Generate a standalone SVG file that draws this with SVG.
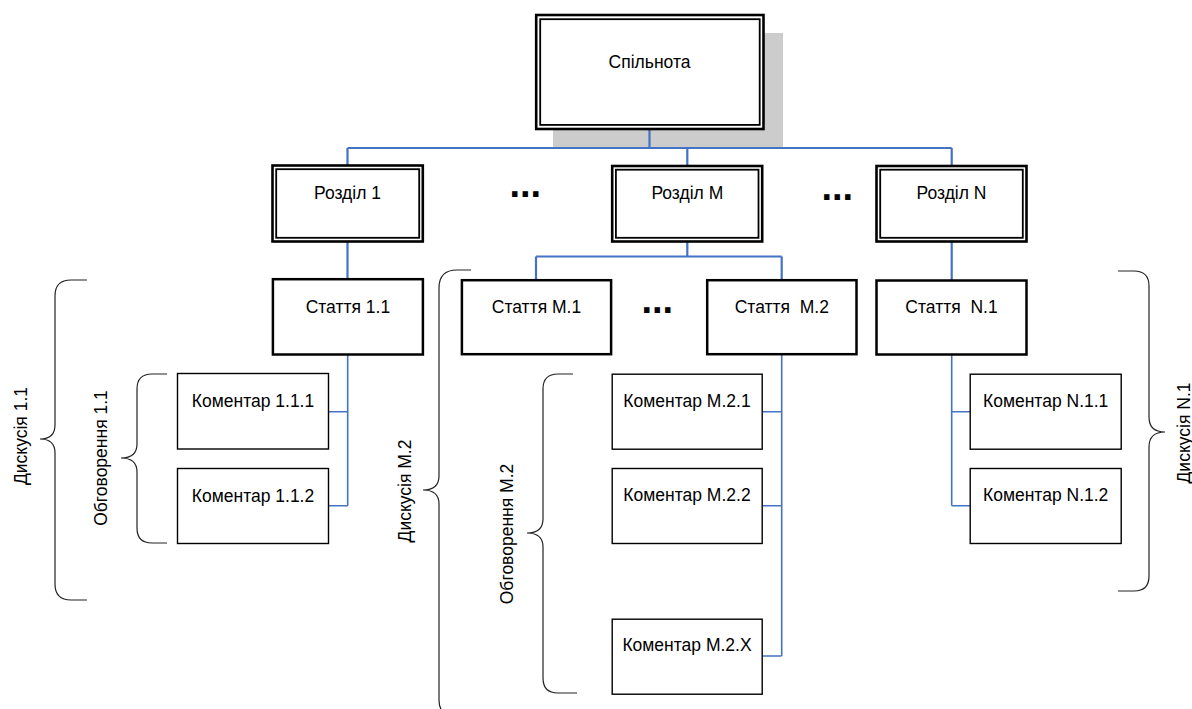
<svg xmlns="http://www.w3.org/2000/svg" width="1192" height="709" viewBox="0 0 1192 709">
  <style>
    text { font-family: "Liberation Sans", Arial, sans-serif; font-size: 17.5px; fill: #000; }
    .c { text-anchor: middle; }
    .dots { font-weight: bold; font-size: 38px; }
    .outer { fill: #fff; stroke: #000; stroke-width: 2.6; }
    .inner { fill: none; stroke: #000; stroke-width: 1.8; }
    .bold { fill: #fff; stroke: #000; stroke-width: 2.5; }
    .thin { fill: #fff; stroke: #000; stroke-width: 1.4; }
    .link { fill: none; stroke: #4472C4; stroke-width: 2.2; }
    .sublink { fill: none; stroke: #4472C4; stroke-width: 1.6; }
    .brace { fill: none; stroke: #222; stroke-width: 1.2; }
  </style>

  <!-- shadow of the root box -->
  <rect x="553" y="33" width="230" height="115" fill="#cccccc"/>

  <!-- connectors -->
  <g id="connectors">
    <path class="link" d="M649.5 129 V148 M347.5 148 H951.7 M347.5 148 V165 M687.3 148 V165 M951.7 148 V165"/>
    <path class="link" d="M347.5 242 V279"/>
    <path class="link" d="M687.3 242 V256.5 M536 256.5 H781.7 M536 256.5 V280 M781.7 256.5 V280"/>
    <path class="link" d="M951.7 242 V280"/>
    <path class="sublink" d="M347.7 355 V505.7 M329 411.7 H347.7 M329 505.7 H347.7"/>
    <path class="sublink" d="M781.7 355 V656 M762.7 411.7 H781.7 M762.7 505.7 H781.7 M762.7 656 H781.7"/>
    <path class="sublink" d="M951.7 355 V505.7 M951.7 411.7 H970 M951.7 505.7 H970"/>
  </g>

  <!-- root -->
  <g id="root">
    <rect class="outer" x="536.2" y="15" width="227.3" height="114"/>
    <rect class="inner" x="540.2" y="19.2" width="219.5" height="105.7"/>
    <text class="c" x="649.5" y="67.5">Спільнота</text>
  </g>

  <!-- sections -->
  <g id="section-1">
    <rect class="outer" x="272.5" y="165.5" width="150.3" height="76"/>
    <rect class="inner" x="276.2" y="169.2" width="143" height="68.6"/>
    <text class="c" x="347.5" y="199">Розділ 1</text>
  </g>
  <g id="section-m">
    <rect class="outer" x="612.2" y="166" width="150" height="75.5"/>
    <rect class="inner" x="615.9" y="169.7" width="142.6" height="68.1"/>
    <text class="c" x="687.3" y="199.3">Розділ M</text>
  </g>
  <g id="section-n">
    <rect class="outer" x="876.5" y="166" width="150" height="75.5"/>
    <rect class="inner" x="880.2" y="169.7" width="142.6" height="68.1"/>
    <text class="c" x="951.5" y="199.3">Розділ N</text>
  </g>

  <!-- ellipses between items -->
  <g id="gaps">
    <text class="dots" x="509.5" y="197">...</text>
    <text class="dots" x="821.5" y="199.5">...</text>
    <text class="dots" x="641.5" y="313">...</text>
  </g>

  <!-- articles -->
  <g id="article-1-1">
    <rect class="bold" x="272.9" y="279.2" width="150" height="75.3"/>
    <text class="c" x="347.9" y="312.7">Стаття 1.1</text>
  </g>
  <g id="article-m-1">
    <rect class="bold" x="461.9" y="280.2" width="149.2" height="74"/>
    <text class="c" x="536.5" y="312.7">Стаття M.1</text>
  </g>
  <g id="article-m-2">
    <rect class="bold" x="707.2" y="280.2" width="149.3" height="74"/>
    <text class="c" x="781.8" y="312.7" xml:space="preserve">Стаття  M.2</text>
  </g>
  <g id="article-n-1">
    <rect class="bold" x="876.5" y="280.5" width="150" height="74"/>
    <text class="c" x="951.5" y="312.7" xml:space="preserve">Стаття  N.1</text>
  </g>

  <!-- comments -->
  <g id="comment-1-1-1">
    <rect class="thin" x="177.5" y="373.5" width="151" height="75.5"/>
    <text class="c" x="253" y="407">Коментар 1.1.1</text>
  </g>
  <g id="comment-1-1-2">
    <rect class="thin" x="177.5" y="468.5" width="151" height="75"/>
    <text class="c" x="253" y="501.5">Коментар 1.1.2</text>
  </g>
  <g id="comment-m-2-1">
    <rect class="thin" x="612.2" y="374.2" width="150" height="75"/>
    <text class="c" x="687" y="406.5">Коментар M.2.1</text>
  </g>
  <g id="comment-m-2-2">
    <rect class="thin" x="612.2" y="468.5" width="150" height="75"/>
    <text class="c" x="687" y="501.3">Коментар M.2.2</text>
  </g>
  <g id="comment-m-2-x">
    <rect class="thin" x="612.2" y="619.2" width="150" height="75"/>
    <text class="c" x="687" y="651.3">Коментар M.2.X</text>
  </g>
  <g id="comment-n-1-1">
    <rect class="thin" x="970.2" y="374.2" width="151" height="75"/>
    <text class="c" x="1045.7" y="406.7">Коментар N.1.1</text>
  </g>
  <g id="comment-n-1-2">
    <rect class="thin" x="970.2" y="468.5" width="151" height="75"/>
    <text class="c" x="1045.7" y="501.3">Коментар N.1.2</text>
  </g>

  <!-- grouping braces -->
  <g id="discussion-1-1">
    <path class="brace" d="M87 280 H71 Q55 280 55 296 V425 Q55 439 40 439 Q55 439 55 453 V584 Q55 600 71 600 H87"/>
    <text class="c" transform="translate(27 436) rotate(-90)">Дискусія 1.1</text>
  </g>
  <g id="thread-1-1">
    <path class="brace" d="M167 374 H152 Q137 374 137 389 V444 Q137 458 121 458 Q137 458 137 472 V528 Q137 543 152 543 H167"/>
    <text class="c" transform="translate(107 458) rotate(-90)">Обговорення 1.1</text>
  </g>
  <g id="discussion-m-2">
    <path class="brace" d="M471 270 H457 Q439 270 439 288 V476 Q439 490 423 490 Q439 490 439 504 V700 Q439 716 455 716 H471"/>
    <text class="c" transform="translate(410.5 491) rotate(-90)">Дискусія M.2</text>
  </g>
  <g id="thread-m-2">
    <path class="brace" d="M573 374 H558 Q543 374 543 389 V519 Q543 533 527 533 Q543 533 543 547 V678 Q543 693 558 693 H577"/>
    <text class="c" transform="translate(513 534) rotate(-90)">Обговорення M.2</text>
  </g>
  <g id="discussion-n-1">
    <path class="brace" d="M1118 271 H1134 Q1149 271 1149 286 V417 Q1149 432 1165 432 Q1149 432 1149 447 V576 Q1149 591 1134 591 H1118"/>
    <text class="c" transform="translate(1190 433) rotate(-90)">Дискусія N.1</text>
  </g>
</svg>
